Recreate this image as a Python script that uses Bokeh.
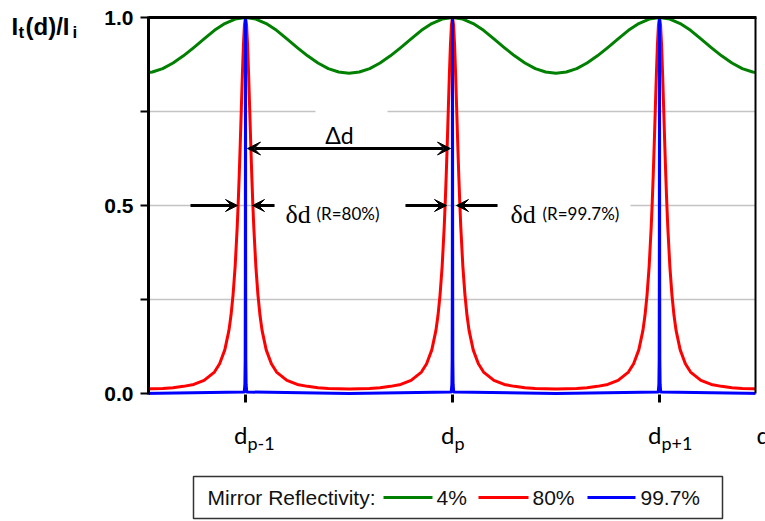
from bokeh.plotting import figure
from bokeh.models import Range1d, Label, Arrow, VeeHead
from bokeh.embed import file_html
from bokeh.resources import INLINE
from bokeh.core.properties import value

# ---------------- data ----------------
peak_positions = [1.0, 2.0, 3.0]
peak_subscripts = ["p-1", "p", "p+1"]
y_ticks = [0.0, 0.25, 0.5, 0.75, 1.0]
y_tick_labels = ["0.0", "", "0.5", "", "1.0"]

# transmission profile vs. offset from a peak (fraction of the peak spacing)
green_offsets = [0.0, 0.05, 0.10, 0.15, 0.20, 0.25, 0.30, 0.35, 0.40, 0.45, 0.50]
green_values = [1.000, 0.996, 0.984, 0.966, 0.943, 0.920, 0.898, 0.879, 0.864, 0.855, 0.852]

red_offsets = [0.0, 0.005, 0.01, 0.015, 0.02, 0.025, 0.03, 0.035, 0.04, 0.05, 0.06,
               0.07, 0.08, 0.10, 0.125, 0.15, 0.20, 0.25, 0.30, 0.35, 0.40, 0.45, 0.50]
red_values = [1.0, 0.981, 0.927, 0.849, 0.760, 0.670, 0.585, 0.509, 0.443, 0.338, 0.263,
              0.208, 0.168, 0.116, 0.079, 0.057, 0.035, 0.024, 0.019, 0.0155, 0.0136, 0.0127, 0.0123]

blue_offsets = [0.0, 0.0008, 0.0015, 0.003, 0.006, 0.5]
blue_values = [1.0, 0.30, 0.09, 0.024, 0.004, 0.0]

legend_title = "Mirror Reflectivity:"
legend_labels = ["4%", "80%", "99.7%"]
legend_colors = ["#008000", "#ff0000", "#0000ff"]


def tile(offsets, values):
    xs, ys = [], []
    for c in peak_positions:
        for o, v in zip(reversed(offsets), reversed(values)):
            xs.append(c - o)
            ys.append(v)
        for o, v in zip(offsets[1:], values[1:]):
            xs.append(c + o)
            ys.append(v)
    return xs, ys


# ---------------- layout helpers (pixel -> data for annotations) ----------------
W, H = 765, 521
PX_PER_X = 207.0
PX_PER_Y = 376.0


def dx(px):
    return 1 + (px - 245) / PX_PER_X


def dy(py):
    return (393 - py) / PX_PER_Y


X0, X1 = dx(148), dx(755)

p = figure(width=W, height=H, x_range=Range1d(dx(0), dx(W)), y_range=Range1d(dy(H), dy(0)),
           output_backend="svg", toolbar_location=None, min_border=0,
           x_axis_location=None, y_axis_location=None)
p.grid.visible = False
p.outline_line_color = None
p.background_fill_color = "white"
p.border_fill_color = "white"

# grid lines (with gaps where the annotations sit)
grid_col = "#c4c4c4"
p.segment(x0=[X0], y0=[0.25], x1=[X1], y1=[0.25], line_color=grid_col, line_width=1.5)
p.segment(x0=[X0, dx(387)], y0=[0.75, 0.75], x1=[dx(315), X1], y1=[0.75, 0.75],
          line_color=grid_col, line_width=1.5)
p.segment(x0=[X0, dx(405), dx(630)], y0=[0.5] * 3, x1=[dx(274), dx(497), X1], y1=[0.5] * 3,
          line_color=grid_col, line_width=1.5)

# curves
gx, gy = tile(green_offsets, green_values)
rx, ry = tile(red_offsets, red_values)
bx, by = tile(blue_offsets, blue_values)
p.line(gx, gy, line_color=legend_colors[0], line_width=3, line_join="round")
p.line(rx, ry, line_color=legend_colors[1], line_width=3, line_join="round")
p.line(bx, by, line_color=legend_colors[2], line_width=3, line_join="round")

# white masks outside the plotting area
p.quad(left=[dx(0), X1], right=[X0, dx(W)], bottom=[dy(400)] * 2, top=[dy(0)] * 2,
       fill_color="white", line_color=None)

# axes and frame
p.segment(x0=[X0], y0=[dy(394)], x1=[X0], y1=[dy(16)], line_color="black", line_width=3)
p.segment(x0=[dx(140)] * len(y_ticks), y0=y_ticks, x1=[X0] * len(y_ticks), y1=y_ticks,
          line_color="black", line_width=2)
p.segment(x0=peak_positions, y0=[dy(394)] * 3, x1=peak_positions, y1=[dy(402)] * 3,
          line_color="black", line_width=3)
p.segment(x0=[X0], y0=[1.0], x1=[X1 + 1 / PX_PER_X], y1=[1.0], line_color="black", line_width=3)
p.segment(x0=[X1], y0=[dy(393)], x1=[X1], y1=[1.0], line_color="black", line_width=2)

# y tick labels
p.text(x=[dx(133)] * len(y_ticks), y=y_ticks, text=y_tick_labels,
       text_font=value("Liberation Sans"), text_font_style="bold", text_font_size="21px",
       text_align="right", text_baseline="middle", text_color="black")

# y title  I_t(d)/I_i
tf = "Liberation Sans"
for txt, px, py, size in [("I", 11, 26, "24px"), ("t", 18, 32, "17px"),
                          ("(d)/I", 25, 26, "24px"), ("i", 72, 32, "17px")]:
    p.add_layout(Label(x=dx(px), y=dy(py), text=txt, text_font=tf, text_font_style="bold",
                       text_font_size=size, text_color="black", text_baseline="alphabetic",
                       text_align="left"))

# x tick labels d_{...}
for c, sub in zip(peak_positions, peak_subscripts):
    p.add_layout(Label(x=c, y=dy(434), x_offset=2, text="d", text_font="Lato",
                       text_font_size="24px", text_color="black", text_align="right",
                       text_baseline="alphabetic"))
    p.add_layout(Label(x=c, y=dy(442), x_offset=2, text=sub, text_font="Lato",
                       text_font_size="18px", text_color="black", text_align="left",
                       text_baseline="alphabetic"))
p.add_layout(Label(x=dx(756), y=dy(434), text="d", text_font="Lato", text_font_size="24px",
                   text_color="black", text_align="left", text_baseline="alphabetic"))

# Delta d annotation
p.add_layout(Arrow(start=VeeHead(size=13, fill_color="black", line_color="black"),
                   end=VeeHead(size=13, fill_color="black", line_color="black"),
                   x_start=dx(247), y_start=dy(148), x_end=dx(450), y_end=dy(148),
                   line_width=3, line_color="black"))
p.add_layout(Label(x=dx(339), y=dy(134), text="\u0394d", text_font="Lato", text_font_size="23px",
                   text_color="black", text_align="center", text_baseline="alphabetic"))

# delta d (R=80%) and (R=99.7%)
for xs, xe in [(190, 237), (274, 252), (405, 446), (497, 456)]:
    p.add_layout(Arrow(end=VeeHead(size=12, fill_color="black", line_color="black"),
                       x_start=dx(xs), y_start=0.5, x_end=dx(xe), y_end=0.5,
                       line_width=3, line_color="black"))
for px_d, px_r, txt in [(285, 316, "(R=80%)"), (510, 542, "(R=99.7%)")]:
    p.add_layout(Label(x=dx(px_d), y=dy(214), text="\u03b4d", text_font="Liberation Serif",
                       text_font_size="26px", text_color="black", text_align="left",
                       text_baseline="alphabetic"))
    p.add_layout(Label(x=dx(px_r), y=dy(213), text=txt, text_font="Lato",
                       text_font_size="17px", text_color="black", text_align="left",
                       text_baseline="alphabetic"))

# ---------------- legend ----------------
ly = dy(497)
p.quad(left=[dx(193)], right=[dx(722)], bottom=[dy(518)], top=[dy(476)], fill_color=None,
       line_color="#333333", line_width=1.5)
p.text(x=[dx(207)], y=[ly], text=[legend_title], text_font=value("Liberation Sans"),
       text_font_size="21px", text_baseline="middle", text_align="left", text_color="#111111")
line_x = [(383, 432), (478, 528), (587, 635)]
text_x = [436, 532, 640]
for (a, b), tx, lab, col in zip(line_x, text_x, legend_labels, legend_colors):
    p.segment(x0=[dx(a)], y0=[ly], x1=[dx(b)], y1=[ly], line_color=col, line_width=3)
    p.text(x=[dx(tx)], y=[ly], text=[lab], text_font=value("Liberation Sans"),
           text_font_size="21px", text_baseline="middle", text_align="left", text_color="#111111")

open("out.html", "w").write(file_html(p, INLINE))
